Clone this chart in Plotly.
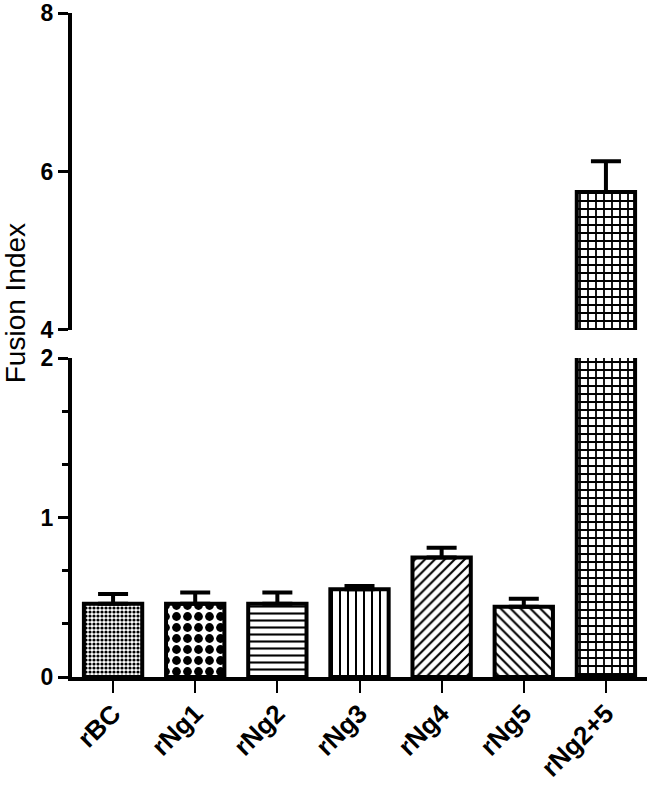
import plotly.graph_objects as go

categories = ["rBC", "rNg1", "rNg2", "rNg3", "rNg4", "rNg5", "rNg2+5"]
fusion_index = [0.46, 0.46, 0.46, 0.55, 0.75, 0.44, 5.74]
sem = [0.06, 0.07, 0.07, 0.02, 0.06, 0.05, 0.39]
patterns = [".", ".", "-", "|", "/", "\\", "+"]
pattern_sizes = [4, 11, 7, 8, 7, 7, 8]
pattern_solidity = [0.5, 0.5, 0.3, 0.25, 0.3, 0.3, 0.4]

lower_ticks = [0, 1, 2]
upper_ticks = [4, 6, 8]

FONT = "Liberation Sans"

fig = go.Figure()

def bar_trace(yaxis):
    return go.Bar(
        x=categories,
        y=fusion_index,
        yaxis=yaxis,
        width=0.71,
        marker=dict(
            color="white",
            line=dict(color="black", width=4),
            pattern=dict(shape=patterns, size=pattern_sizes,
                         solidity=pattern_solidity, fgopacity=1,
                         fgcolor="black", bgcolor="white", fillmode="overlay"),
        ),
        error_y=dict(type="data", array=sem, arrayminus=[0] * len(sem),
                     symmetric=False, color="black", thickness=4, width=15),
        showlegend=False,
        hoverinfo="skip",
    )

fig.add_trace(bar_trace("y"))
fig.add_trace(bar_trace("y2"))

axis_common = dict(
    showline=True, linecolor="black", linewidth=4,
    ticks="outside", tickcolor="black", tickwidth=3, ticklen=10,
    showgrid=False, zeroline=False, automargin=False,
    tickfont=dict(family=FONT, size=23, color="black", weight="bold"),
)

fig.update_layout(
    width=650, height=787,
    margin=dict(l=72, r=3, t=13, b=110),
    plot_bgcolor="white", paper_bgcolor="white",
    xaxis=dict(
        range=[-0.5, 6.5], anchor="y", automargin=False,
        showline=True, linecolor="black", linewidth=4,
        ticks="outside", tickcolor="black", tickwidth=2, ticklen=12,
        tickangle=-45, showgrid=False, zeroline=False,
        ticklabelstandoff=-5,
        tickfont=dict(family=FONT, size=26, color="black", weight="bold"),
    ),
    yaxis=dict(
        domain=[0, 0.4804], range=[0, 2],
        tickvals=lower_ticks, ticktext=[str(t) for t in lower_ticks],
        minor=dict(dtick=1/3, tick0=0, ticks="outside", ticklen=6,
                   tickwidth=3, tickcolor="black", showgrid=False),
        **axis_common,
    ),
    yaxis2=dict(
        domain=[0.5226, 1.0], range=[4, 8], anchor="x",
        tickvals=upper_ticks, ticktext=[str(t) for t in upper_ticks],
        **axis_common,
    ),
    annotations=[dict(
        text="Fusion Index", textangle=-90, showarrow=False,
        xref="paper", yref="paper", x=-0.099, y=0.563,
        xanchor="center", yanchor="middle",
        font=dict(family=FONT, size=28, color="black"),
    )],
)

fig.write_html("out.html", config={"displayModeBar": False},
               post_script="document.body.style.margin='0';document.body.style.padding='0';")
